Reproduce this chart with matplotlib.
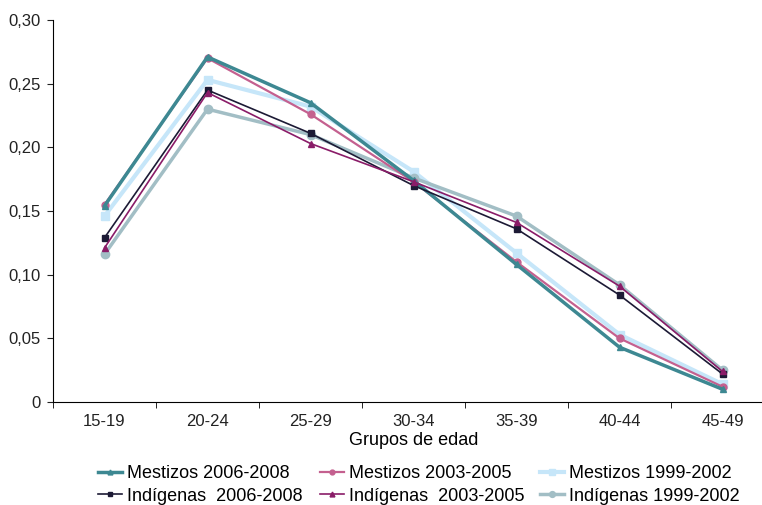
import numpy as np
import matplotlib
matplotlib.use("Agg")
import matplotlib.pyplot as plt

plt.rcParams['font.family'] = ['Liberation Sans', 'DejaVu Sans']

grupos = ["15-19", "20-24", "25-29", "30-34", "35-39", "40-44", "45-49"]

mestizos_2006 = [0.154, 0.271, 0.235, 0.174, 0.108, 0.043, 0.010]
mestizos_2003 = [0.155, 0.270, 0.226, 0.173, 0.110, 0.050, 0.012]
mestizos_1999 = [0.146, 0.253, 0.232, 0.181, 0.117, 0.053, 0.014]
indigenas_2006 = [0.129, 0.245, 0.211, 0.170, 0.136, 0.084, 0.022]
indigenas_2003 = [0.121, 0.243, 0.203, 0.173, 0.141, 0.091, 0.024]
indigenas_1999 = [0.116, 0.230, 0.210, 0.176, 0.146, 0.092, 0.025]


def main():
    fig = plt.figure(figsize=(7.62, 5.05), dpi=100)
    ax = fig.add_axes([53 / 762, 1 - 402 / 505, 721 / 762, 382 / 505])
    x = np.arange(len(grupos))

    series = [
        (mestizos_2006, "Mestizos 2006-2008", "#3D8892", "^", 2.5, 5),
        (indigenas_2006, "Indígenas  2006-2008", "#1C1A35", "s", 1.2, 5),
        (mestizos_2003, "Mestizos 2003-2005", "#C4608F", "o", 1.6, 5),
        (indigenas_2003, "Indígenas  2003-2005", "#8A1C68", "^", 1.2, 5),
        (mestizos_1999, "Mestizos 1999-2002", "#C6E6F9", "s", 3.0, 6),
        (indigenas_1999, "Indígenas 1999-2002", "#A2BEC5", "o", 2.5, 6),
    ]
    # draw order: light ones first so thin lines stay on top
    order = [4, 5, 2, 0, 1, 3]
    lines = [None] * len(series)
    for i in order:
        vals, lab, col, mk, lw, ms = series[i]
        lines[i], = ax.plot(x, vals, color=col, marker=mk, lw=lw, ms=ms, label=lab)

    ax.set_xlim(-0.5, 6.5)
    ax.set_ylim(0, 0.30)
    ax.set_yticks(np.arange(0, 0.31, 0.05))
    ax.set_yticklabels(["0", "0,05", "0,10", "0,15", "0,20", "0,25", "0,30"])
    ax.set_xticks(x)
    ax.set_xticklabels(grupos)
    ax.set_xticks(np.arange(-0.5, 7, 1), minor=True)
    ax.tick_params(axis="x", which="major", length=0, pad=9)
    ax.tick_params(axis="x", which="minor", length=4, direction="out")
    ax.tick_params(axis="y", length=4, direction="out", pad=5)
    ax.tick_params(labelsize=12, colors="#222222")
    ax.spines["top"].set_visible(False)
    ax.spines["right"].set_visible(False)
    ax.set_xlabel("Grupos de edad", fontsize=13, labelpad=2)

    # one legend per column so each column sits where the reference has it
    col_x = [98, 320, 540]
    for c in range(3):
        fig.legend(handles=lines[2 * c:2 * c + 2], loc="center left",
                   bbox_to_anchor=(col_x[c] / 762, 1 - 485 / 505),
                   frameon=False, fontsize=13, handlelength=1.33,
                   handletextpad=0.25, labelspacing=0.3, markerscale=0.7,
                   borderpad=0, borderaxespad=0)

    fig.savefig("out.png", dpi=100)


if __name__ == "__main__":
    main()
